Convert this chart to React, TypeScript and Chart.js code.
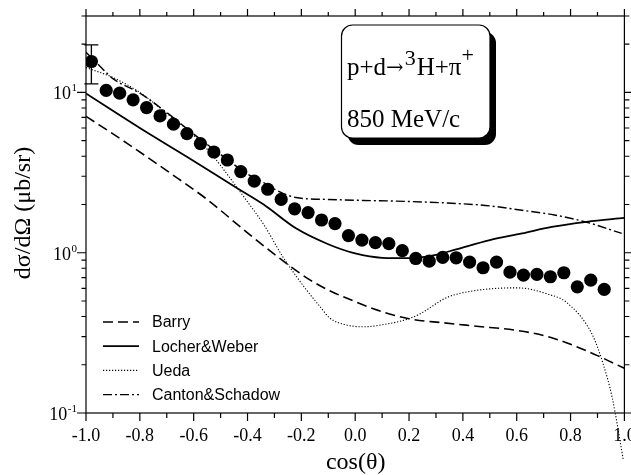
import React, { useEffect, useRef } from "react";
import { Chart, registerables } from "chart.js";

Chart.register(...registerables);

// Measured differential cross section (µb/sr) vs cos(theta)
const cosTheta = [
  -0.98, -0.925, -0.875, -0.825, -0.775, -0.725, -0.675, -0.625, -0.575, -0.525,
  -0.475, -0.425, -0.375, -0.325, -0.275, -0.225, -0.175, -0.125, -0.075, -0.025,
  0.025, 0.075, 0.125, 0.175, 0.225, 0.275, 0.325, 0.375, 0.425, 0.475,
  0.525, 0.575, 0.625, 0.675, 0.725, 0.775, 0.825, 0.875, 0.925,
];
const measured = [
  15.6, 10.3, 9.9, 9.0, 8.05, 7.14, 6.34, 5.54, 4.8, 4.25,
  3.79, 3.21, 2.8, 2.49, 2.15, 1.88, 1.78, 1.6, 1.52, 1.28,
  1.2, 1.155, 1.14, 1.03, 0.921, 0.886, 0.935, 0.93, 0.874, 0.806,
  0.874, 0.756, 0.725, 0.732, 0.708, 0.75, 0.613, 0.674, 0.59,
];

// Error bar on the most backward point
const errorBarX = [-0.98];
const errorBarLow = [11.3];
const errorBarHigh = [19.8];

// Model calculations
const barryX = [-1, -0.85, -0.7, -0.55, -0.4, -0.25, -0.17, -0.1, 0, 0.08, 0.2, 0.33, 0.45, 0.6, 0.73, 0.9, 1.0];
const barryY = [7.1, 4.85, 3.25, 2.15, 1.33, 0.845, 0.68, 0.585, 0.495, 0.44, 0.387, 0.365, 0.348, 0.328, 0.295, 0.228, 0.19];

const locherX = [-1, -0.8, -0.6, -0.45, -0.34, -0.22, -0.1, 0, 0.1, 0.2, 0.3, 0.375, 0.5, 0.62, 0.73, 0.86, 1.0];
const locherY = [9.85, 6.0, 3.74, 2.6, 2.0, 1.42, 1.13, 0.99, 0.93, 0.925, 0.97, 1.05, 1.2, 1.32, 1.45, 1.56, 1.65];

const uedaX = [-1, -0.9, -0.8, -0.7, -0.6, -0.53, -0.47, -0.416, -0.34, -0.27, -0.21, -0.17, -0.13, -0.095, -0.035, 0.03, 0.12, 0.19, 0.24, 0.34, 0.43, 0.6, 0.72, 0.785, 0.88, 0.92, 0.955, 0.996];
const uedaY = [14.3, 12.4, 10.0, 7.4, 5.4, 4.05, 3.0, 2.26, 1.5, 0.95, 0.68, 0.555, 0.46, 0.392, 0.355, 0.345, 0.36, 0.383, 0.415, 0.525, 0.575, 0.604, 0.549, 0.49, 0.31, 0.205, 0.124, 0.051];

const cantonX = [-1, -0.95, -0.9, -0.8, -0.7, -0.6, -0.5, -0.4, -0.35, -0.3, -0.22, -0.1, 0.03, 0.15, 0.375, 0.5, 0.62, 0.74, 0.86, 0.99];
const cantonY = [17.8, 14.7, 12.2, 9.9, 7.5, 5.5, 4.1, 3.1, 2.8, 2.49, 2.21, 2.15, 2.12, 2.1, 2.03, 1.96, 1.84, 1.72, 1.55, 1.32];

// Axis ticks
const xMajorTicks = [-1.0, -0.8, -0.6, -0.4, -0.2, 0.0, 0.2, 0.4, 0.6, 0.8, 1.0];
const xMinorTicks = [-0.9, -0.7, -0.5, -0.3, -0.1, 0.1, 0.3, 0.5, 0.7, 0.9];
const yDecades = [-1, 0, 1];
const yMinorMantissas = [2, 3, 4, 5, 6, 7, 8, 9];

// Reaction annotation pieces: text, superscript flag
const reactionParts: [string, boolean][] = [
  ["p+d", false],
  ["\u2192", false],
  ["3", true],
  ["H+\u03C0", false],
  ["+", true],
];
const momentumLabel = "850 MeV/c";

const SERIF = '"Liberation Serif", "Times New Roman", serif';
const SANS = '"Liberation Sans", Arial, sans-serif';

const toPoints = (xs: number[], ys: number[]) => xs.map((x, i) => ({ x, y: ys[i] }));

const roundRect = (ctx: CanvasRenderingContext2D, x: number, y: number, w: number, h: number, r: number) => {
  ctx.beginPath();
  ctx.moveTo(x + r, y);
  ctx.lineTo(x + w - r, y);
  ctx.arcTo(x + w, y, x + w, y + r, r);
  ctx.lineTo(x + w, y + h - r);
  ctx.arcTo(x + w, y + h, x + w - r, y + h, r);
  ctx.lineTo(x + r, y + h);
  ctx.arcTo(x, y + h, x, y + h - r, r);
  ctx.lineTo(x, y + r);
  ctx.arcTo(x, y, x + r, y, r);
  ctx.closePath();
};

const decorations = {
  id: "decorations",
  afterDatasetsDraw(chart: any) {
    const { ctx, scales } = chart;
    const x = scales.x;
    const y = scales.y;
    ctx.save();
    ctx.strokeStyle = "#000";
    ctx.lineWidth = 1.3;
    errorBarX.forEach((xv, i) => {
      const px = x.getPixelForValue(xv);
      const top = y.getPixelForValue(errorBarHigh[i]);
      const bot = y.getPixelForValue(errorBarLow[i]);
      ctx.beginPath();
      ctx.moveTo(px, top);
      ctx.lineTo(px, bot);
      ctx.moveTo(px - 7, top);
      ctx.lineTo(px + 7, top);
      ctx.moveTo(px - 7, bot);
      ctx.lineTo(px + 7, bot);
      ctx.stroke();
    });
    ctx.restore();
  },
  afterDraw(chart: any) {
    const { ctx, chartArea, scales } = chart;
    const x = scales.x;
    const y = scales.y;
    const { left, right, top, bottom } = chartArea;
    ctx.save();

    // frame
    ctx.strokeStyle = "#000";
    ctx.lineWidth = 1.2;
    ctx.strokeRect(left, top, right - left, bottom - top);

    // x ticks (bottom and top, outward)
    ctx.beginPath();
    xMajorTicks.forEach((v) => {
      const px = x.getPixelForValue(v);
      ctx.moveTo(px, bottom);
      ctx.lineTo(px, bottom + 8);
      ctx.moveTo(px, top);
      ctx.lineTo(px, top - 7);
    });
    xMinorTicks.forEach((v) => {
      const px = x.getPixelForValue(v);
      ctx.moveTo(px, bottom);
      ctx.lineTo(px, bottom + 5);
      ctx.moveTo(px, top);
      ctx.lineTo(px, top - 4);
    });
    // y ticks (left and right, outward)
    yDecades.forEach((d) => {
      const py = y.getPixelForValue(Math.pow(10, d));
      ctx.moveTo(left, py);
      ctx.lineTo(left - 9, py);
      ctx.moveTo(right, py);
      ctx.lineTo(right + 7, py);
      yMinorMantissas.forEach((m) => {
        const v = m * Math.pow(10, d);
        if (v > y.max + 1e-9) return;
        const pm = y.getPixelForValue(v);
        ctx.moveTo(left, pm);
        ctx.lineTo(left - 4.5, pm);
        ctx.moveTo(right, pm);
        ctx.lineTo(right + 5, pm);
      });
    });
    ctx.stroke();

    // x tick labels
    ctx.fillStyle = "#000";
    ctx.font = `18px ${SERIF}`;
    ctx.textAlign = "center";
    ctx.textBaseline = "alphabetic";
    xMajorTicks.forEach((v) => {
      ctx.fillText(v.toFixed(1), x.getPixelForValue(v), bottom + 28);
    });

    // y tick labels: 10 with raised exponent
    yDecades.forEach((d) => {
      const py = y.getPixelForValue(Math.pow(10, d));
      const exp = String(d);
      ctx.font = `11px ${SERIF}`;
      const ew = ctx.measureText(exp).width;
      const xr = 77;
      ctx.textAlign = "right";
      ctx.fillText(exp, xr, py - 1);
      ctx.font = `18px ${SERIF}`;
      ctx.fillText("10", xr - ew - 0.5, py + 7);
    });

    // axis titles
    ctx.font = `24px ${SERIF}`;
    ctx.textAlign = "center";
    ctx.fillText("cos(\u03B8)", (left + right) / 2 + 0.5, 469);
    ctx.save();
    ctx.translate(30, 213);
    ctx.rotate(-Math.PI / 2);
    ctx.fillText("d\u03C3/d\u03A9 (\u03BCb/sr)", 0, 0);
    ctx.restore();

    // legend
    const rows = chart.data.datasets.filter((ds: any) => ds.inLegend);
    ctx.font = `16px ${SANS}`;
    ctx.textAlign = "left";
    ctx.textBaseline = "middle";
    rows.forEach((ds: any, i: number) => {
      const ly = 322 + i * 24.2;
      ctx.save();
      ctx.strokeStyle = ds.borderColor;
      ctx.lineWidth = ds.borderWidth;
      ctx.setLineDash(ds.borderDash || []);
      ctx.beginPath();
      ctx.moveTo(103, ly);
      ctx.lineTo(139, ly);
      ctx.stroke();
      ctx.restore();
      ctx.fillText(ds.label, 152, ly + 1);
    });

    // reaction box with drop shadow
    const bx = 341.5, by = 25, bw = 148.5, bh = 113;
    ctx.fillStyle = "#000";
    roundRect(ctx, bx + 6, by + 7, bw, bh, 11);
    ctx.fill();
    ctx.fillStyle = "#fff";
    roundRect(ctx, bx, by, bw, bh, 11);
    ctx.fill();
    ctx.strokeStyle = "#000";
    ctx.lineWidth = 1.2;
    ctx.stroke();

    ctx.fillStyle = "#000";
    ctx.textAlign = "left";
    ctx.textBaseline = "alphabetic";
    let tx = 347;
    const base = 75;
    reactionParts.forEach(([text, sup]) => {
      if (text === "\u2192") {
        ctx.font = `21px "DejaVu Serif", ${SERIF}`;
        ctx.fillText(text, tx, base - 1);
        tx += ctx.measureText(text).width + 1;
      } else if (sup) {
        ctx.font = `22px ${SERIF}`;
        ctx.fillText(text, tx, base - (text === "3" ? 10 : 13));
        tx += ctx.measureText(text).width + 1;
      } else {
        ctx.font = `25px ${SERIF}`;
        ctx.fillText(text, tx, base);
        tx += ctx.measureText(text).width;
      }
    });

    ctx.font = `25px ${SERIF}`;
    ctx.fillText(momentumLabel, 347, 127);

    ctx.restore();
  },
};

export default function App() {
  const canvasRef = useRef<HTMLCanvasElement | null>(null);

  useEffect(() => {
    const canvas = canvasRef.current;
    if (!canvas) return;
    const lineBase = {
      type: "line",
      borderColor: "#000",
      backgroundColor: "#000",
      pointRadius: 0,
      fill: false,
      cubicInterpolationMode: "monotone",
      inLegend: true,
    };
    const chart = new Chart(canvas, {
      type: "line",
      data: {
        datasets: [
          {
            label: "data",
            data: toPoints(cosTheta, measured),
            showLine: false,
            pointRadius: 6.6,
            pointBorderWidth: 0,
            pointBackgroundColor: "#000",
            pointBorderColor: "#000",
            borderColor: "#000",
            inLegend: false,
          },
          {
            ...lineBase,
            label: "Barry",
            data: toPoints(barryX, barryY),
            borderWidth: 1.6,
            borderDash: [10, 5],
          },
          {
            ...lineBase,
            label: "Locher&Weber",
            data: toPoints(locherX, locherY),
            borderWidth: 1.8,
            borderDash: [],
          },
          {
            ...lineBase,
            label: "Ueda",
            data: toPoints(uedaX, uedaY),
            borderWidth: 1.1,
            borderDash: [1.2, 1.8],
            clip: false,
          },
          {
            ...lineBase,
            label: "Canton&Schadow",
            data: toPoints(cantonX, cantonY),
            borderWidth: 1.4,
            borderDash: [9, 3, 2, 3],
          },
        ] as any,
      },
      options: {
        animation: false,
        responsive: false,
        devicePixelRatio: 1,
        events: [],
        layout: { padding: { left: 86, right: 6, top: 16, bottom: 62 } },
        plugins: { legend: { display: false }, tooltip: { enabled: false } },
        scales: {
          x: { type: "linear", min: -1, max: 1, display: false },
          y: { type: "logarithmic", min: 0.1, max: 30, display: false },
        },
      } as any,
      plugins: [decorations],
    });
    return () => chart.destroy();
  }, []);

  return (
    <div style={{ position: "absolute", left: 0, top: 0, width: 631, height: 475, background: "#fff" }}>
      <canvas ref={canvasRef} width={631} height={475} style={{ display: "block" }} />
    </div>
  );
}
